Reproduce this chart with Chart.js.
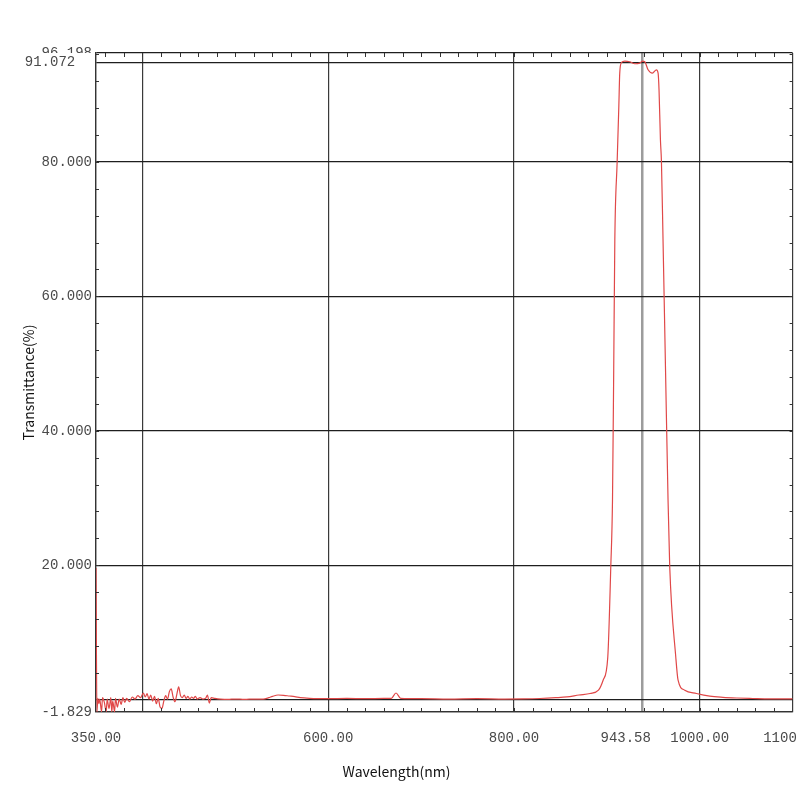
<!DOCTYPE html>
<html>
<head>
<meta charset="utf-8">
<script src="https://cdn.jsdelivr.net/npm/chart.js@4.4.0/dist/chart.umd.min.js"></script>
<style>
html,body{margin:0;padding:0;background:#fff;overflow:hidden;}
#wrap{width:840px;height:800px;position:relative;}
</style>
</head>
<body>
<div id="wrap"><canvas id="c"></canvas></div>
<script>
// ---- data ----
const wavelengths = [350,351,352,353,354,356,357,359,361,362,364,366,367,368,370,371,373,375,377,379,381,383,386,389,392,395,398,401,403,405,407,409,411,413,415,417,419,421,423,425,427,429,431,433,435,437,439,441,443,445,447,449,451,453,455,457,459,462,465,468,470,472,474,478,484,492,500,510,520,530,536,540,546,552,558,564,570,580,600,620,640,660,668,673,678,700,730,760,790,810,828,845,857,870,882,891,896,901,904.3,906.1,907.4,908.6,911.1,912.9,913.9,915.8,919.4,924.7,930.1,935.5,938.4,940.9,944.4,949.1,953.4,955.2,956.2,957.7,958.8,960.5,963.2,965.9,967.7,974.2,976.7,983.9,996.5,1010.8,1025,1040,1057,1075,1100];
const transmittance = [19.6,-1.8,0.2,-0.6,0.1,-1.8,0.3,-0.4,-1.8,0.1,-1.3,0.3,-1.8,-0.2,-1.8,0.2,-1.1,0.1,-0.7,0.3,-0.4,0.2,-0.3,0.4,0.1,0.6,0.3,1.0,0.4,0.9,0.1,0.7,-0.2,0.5,-0.6,0.2,-1.1,-1.3,-0.2,0.6,0.1,1.2,1.6,0.4,-0.3,0.8,1.9,0.6,0.3,0.7,0.2,0.5,0.1,0.4,0.2,0.5,0.1,0.3,0.1,0.2,0.7,-0.5,0.3,0.2,0.1,0.05,0.1,0.05,0.1,0.1,0.3,0.5,0.7,0.65,0.55,0.45,0.3,0.2,0.15,0.2,0.15,0.2,0.2,1.0,0.2,0.15,0.1,0.15,0.1,0.12,0.18,0.3,0.42,0.7,0.92,1.41,2.9,6.3,20,29.7,49,68.4,80,88.2,93.2,94.8,95.0,94.9,94.6,94.7,95.0,94.9,93.7,93.2,93.7,93.2,90.7,83.3,80.0,68.4,49,29.7,19.8,6.4,2.9,1.41,0.92,0.52,0.35,0.25,0.18,0.12,0.12];

const markerWavelength = 938.4;
const xTickValues = [350, 400, 600, 800, 938.4, 1000, 1100];
const xTickLabels = ['350.00', '', '600.00', '800.00', '943.58    ', '1000.00', '1100.00'];

const peakLineValue = 94.8;
const yTickValues = [-1.829, 0, 20, 40, 60, 80, 96.198, 94.8];
const yTickLabels = ['-1.829', '', '20.000', '40.000', '60.000', '80.000', '96.198', '91.072  '];

const xMinorTicks = [360,380,400,420,440,460,480,500,520,540,560,580,600,620,640,660,680,700,720,740,760,780,800,820,840,860,880,900,920,940,960,980,1000,1020,1040,1060,1080];
const yMinorTicks = [4,8,12,16,20,24,28,32,36,40,44,48,52,56,60,64,68,72,76,80,84,88,92,96];

const xTitle = 'Wavelength(nm)';
const yTitle = 'Transmittance(%)';

// ---- drawing ----
const tickFont = {family: "'Liberation Mono', 'DejaVu Sans Mono', monospace", size: 14};
const titleFont = {family: "'Noto Sans CJK SC', 'Noto Sans', sans-serif", size: 14, weight: 'normal'};

const innerTicks = {
  id: 'innerTicks',
  afterDatasetsDraw(chart) {
    const {ctx, chartArea: {left, right, top, bottom}, scales: {x, y}} = chart;
    ctx.save();
    ctx.strokeStyle = '#333';
    ctx.lineWidth = 1;
    ctx.beginPath();
    xMinorTicks.forEach(v => {
      const px = Math.round(x.getPixelForValue(v)) + 0.5;
      ctx.moveTo(px, bottom); ctx.lineTo(px, bottom - 4);
      ctx.moveTo(px, top); ctx.lineTo(px, top + 4);
    });
    yMinorTicks.forEach(v => {
      const py = Math.round(y.getPixelForValue(v)) + 0.5;
      ctx.moveTo(left, py); ctx.lineTo(left + 3, py);
      ctx.moveTo(right, py); ctx.lineTo(right - 3, py);
    });
    ctx.stroke();
    ctx.restore();
  }
};

new Chart(document.getElementById('c'), {
  type: 'line',
  data: {
    datasets: [{
      data: wavelengths.map((w, i) => ({x: w, y: transmittance[i]})),
      borderColor: '#e04848',
      borderWidth: 1.2,
      pointRadius: 0,
      fill: false,
      tension: 0,
      cubicInterpolationMode: 'monotone'
    }]
  },
  options: {
    responsive: true,
    maintainAspectRatio: false,
    animation: false,
    layout: {padding: {left: 0, top: 53, right: 47, bottom: 0}},
    plugins: {
      legend: {display: false},
      tooltip: {enabled: false},
      title: {
        display: true, position: 'bottom', text: xTitle, color: '#111',
        font: titleFont, padding: {top: 0, bottom: 20}
      }
    },
    scales: {
      x: {
        type: 'linear', min: 350, max: 1100,
        afterBuildTicks: s => { s.ticks = xTickValues.map(v => ({value: v})); },
        afterFit: s => { s.height = 51.2; },
        ticks: {
          autoSkip: false, maxRotation: 0, minRotation: 0, padding: 18,
          color: '#4a4a4a', font: tickFont,
          callback: (v, i) => xTickLabels[i]
        },
        grid: {
          drawTicks: false,
          color: c => xTickValues[c.index] === markerWavelength ? '#9c9c9c' : '#3a3a3a',
          lineWidth: c => xTickValues[c.index] === markerWavelength ? 2.5 : 1.2
        },
        border: {display: true, color: '#333', width: 1.3}
      },
      y: {
        type: 'linear', min: -1.829, max: 96.198,
        afterBuildTicks: s => { s.ticks = yTickValues.map(v => ({value: v})); },
        afterFit: s => { s.width = 96; },
        ticks: {
          autoSkip: false, padding: 4, color: '#4a4a4a', font: tickFont,
          callback: (v, i) => yTickLabels[i],
          showLabelBackdrop: c => yTickValues[c.index] === peakLineValue,
          backdropColor: '#ffffff',
          backdropPadding: {left: 2, right: 0, top: 1, bottom: 1}
        },
        grid: {drawTicks: false, color: '#1e1e1e', lineWidth: 1.3},
        border: {display: true, color: '#333', width: 1.3},
        title: {
          display: true, text: yTitle, color: '#111', font: titleFont,
          padding: {top: 20, bottom: 0}
        }
      }
    }
  },
  plugins: [innerTicks]
});
</script>
</body>
</html>
